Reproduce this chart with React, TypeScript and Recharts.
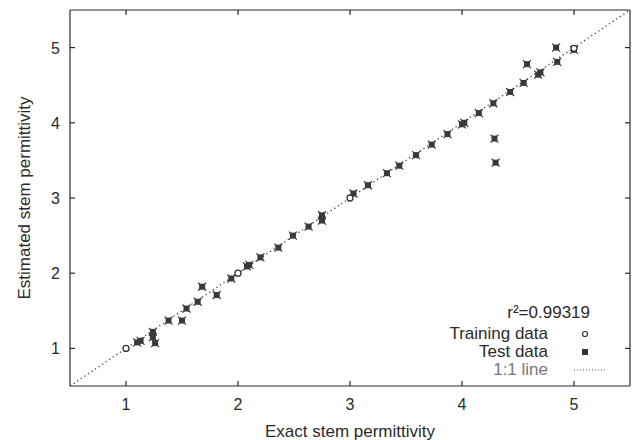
import { ScatterChart, Scatter, XAxis, YAxis, ReferenceLine, Label } from "recharts";

const ticks = [1, 2, 3, 4, 5];

const trainX = [1.0, 2.0, 3.0, 5.0];
const trainY = [1.0, 2.0, 3.0, 4.99];

const testX = [1.1, 1.13, 1.24, 1.24, 1.26, 1.38, 1.5, 1.54, 1.64, 1.68, 1.81, 1.94, 2.08, 2.1, 2.2, 2.36, 2.49, 2.63, 2.75, 2.75, 3.03, 3.16, 3.33, 3.44, 3.59, 3.73, 3.87, 4.0, 4.02, 4.15, 4.28, 4.29, 4.3, 4.43, 4.55, 4.58, 4.7, 4.68, 4.85, 4.84, 5.0];
const testY = [1.08, 1.1, 1.22, 1.15, 1.07, 1.37, 1.37, 1.53, 1.62, 1.82, 1.71, 1.93, 2.09, 2.11, 2.21, 2.34, 2.5, 2.62, 2.77, 2.7, 3.06, 3.17, 3.33, 3.43, 3.57, 3.71, 3.85, 3.98, 4.0, 4.13, 4.26, 3.79, 3.47, 4.41, 4.53, 4.78, 4.67, 4.64, 4.81, 5.0, 4.97];

const training = trainX.map((x, i) => ({ x, y: trainY[i] }));
const test = testX.map((x, i) => ({ x, y: testY[i] }));

const FONT = "'Liberation Sans', Arial, sans-serif";
const INK = "#2a2a2a";
const FS = 17;

const BottomTick = (props: any) => {
  const { x, y, payload } = props;
  return (
    <g>
      <line x1={x} y1={y} x2={x} y2={y - 5} stroke={INK} strokeWidth={1.2} />
      <text x={x} y={y + 24} textAnchor="middle" fontSize={FS - 1} fill={INK} fontFamily={FONT}>{payload.value}</text>
    </g>
  );
};
const TopTick = (props: any) => {
  const { x, y } = props;
  return <line x1={x} y1={y} x2={x} y2={y + 5} stroke={INK} strokeWidth={1.2} />;
};
const LeftTick = (props: any) => {
  const { x, y, payload } = props;
  return (
    <g>
      <line x1={x} y1={y} x2={x + 5} y2={y} stroke={INK} strokeWidth={1.2} />
      <text x={x - 10} y={y + 6} textAnchor="end" fontSize={FS - 1} fill={INK} fontFamily={FONT}>{payload.value}</text>
    </g>
  );
};
const RightTick = (props: any) => {
  const { x, y } = props;
  return <line x1={x} y1={y} x2={x - 5} y2={y} stroke={INK} strokeWidth={1.2} />;
};

const TestMark = (props: any) => {
  const { cx, cy } = props;
  return (
    <g>
      <rect x={cx - 3} y={cy - 3} width={6} height={6} fill="#3a3a3a" />
      <path d={`M${cx - 4},${cy - 4}L${cx + 4},${cy + 4}M${cx - 4},${cy + 4}L${cx + 4},${cy - 4}`} stroke="#3a3a3a" strokeWidth={1.2} />
    </g>
  );
};
const TrainMark = (props: any) => {
  const { cx, cy } = props;
  return <circle cx={cx} cy={cy} r={3} fill="#fff" stroke="#333" strokeWidth={1.3} />;
};

export default function App() {
  return (
    <div style={{ position: "relative", width: 632, height: 432, fontFamily: FONT }}>
      <ScatterChart width={632} height={432} margin={{ top: 0, right: 0, bottom: 0, left: 0 }}>
        <XAxis xAxisId="b" type="number" dataKey="x" domain={[0.5, 5.5]} ticks={ticks} allowDataOverflow
          height={54} tickSize={0} tickMargin={0} tickLine={false} axisLine={{ stroke: INK, strokeWidth: 1.2 }} tick={<BottomTick />}>
          <Label value="Exact stem permittivity" position="insideBottom" offset={3} style={{ fontSize: FS, fill: INK, fontFamily: FONT }} />
        </XAxis>
        <XAxis xAxisId="t" orientation="top" type="number" dataKey="x" domain={[0.5, 5.5]} ticks={ticks} allowDataOverflow
          height={2} tickSize={0} tickMargin={0} tickLine={false} axisLine={{ stroke: INK, strokeWidth: 1.2 }} tick={<TopTick />} />
        <YAxis yAxisId="l" type="number" dataKey="y" domain={[0.5, 5.5]} ticks={ticks} allowDataOverflow
          width={62} tickSize={0} tickMargin={0} tickLine={false} axisLine={{ stroke: INK, strokeWidth: 1.2 }} tick={<LeftTick />}>
          <Label value="Estimated stem permittivity" angle={-90} position="insideLeft" offset={16} style={{ fontSize: FS, fill: INK, fontFamily: FONT, textAnchor: "middle" }} />
        </YAxis>
        <YAxis yAxisId="r" orientation="right" type="number" dataKey="y" domain={[0.5, 5.5]} ticks={ticks} allowDataOverflow
          width={10} tickSize={0} tickMargin={0} tickLine={false} axisLine={{ stroke: INK, strokeWidth: 1.2 }} tick={<RightTick />} />
        <ReferenceLine xAxisId="b" yAxisId="l" segment={[{ x: 0.5, y: 0.5 }, { x: 5.5, y: 5.5 }]} stroke="#444" strokeWidth={1.3} strokeDasharray="1.3 3" />
        <Scatter xAxisId="b" yAxisId="l" name="Test data" data={test} shape={<TestMark />} isAnimationActive={false} />
        <Scatter xAxisId="b" yAxisId="l" name="Training data" data={training} shape={<TrainMark />} isAnimationActive={false} />
      </ScatterChart>
      <div style={{ position: "absolute", left: 400, top: 294, width: 200, fontSize: FS, color: INK, lineHeight: "18px" }}>
        <div style={{ textAlign: "right", paddingRight: 18, height: 23, lineHeight: "22px" }}>r²=0.99319</div>
        <div style={{ display: "flex", alignItems: "center" }}>
          <span style={{ width: 140, textAlign: "right" }}>Training data</span>
          <svg width={60} height={18}><circle cx={37} cy={9} r={2.5} fill="#fff" stroke="#333" strokeWidth={1.2} /></svg>
        </div>
        <div style={{ display: "flex", alignItems: "center" }}>
          <span style={{ width: 140, textAlign: "right" }}>Test data</span>
          <svg width={60} height={18}><rect x={34} y={6} width={6} height={6} fill="#333" /></svg>
        </div>
        <div style={{ display: "flex", alignItems: "center" }}>
          <span style={{ width: 140, textAlign: "right", color: "#777" }}>1:1 line</span>
          <svg width={60} height={18}><line x1={26} y1={9} x2={58} y2={9} stroke="#555" strokeWidth={1} strokeDasharray="1 2" /></svg>
        </div>
      </div>
    </div>
  );
}
